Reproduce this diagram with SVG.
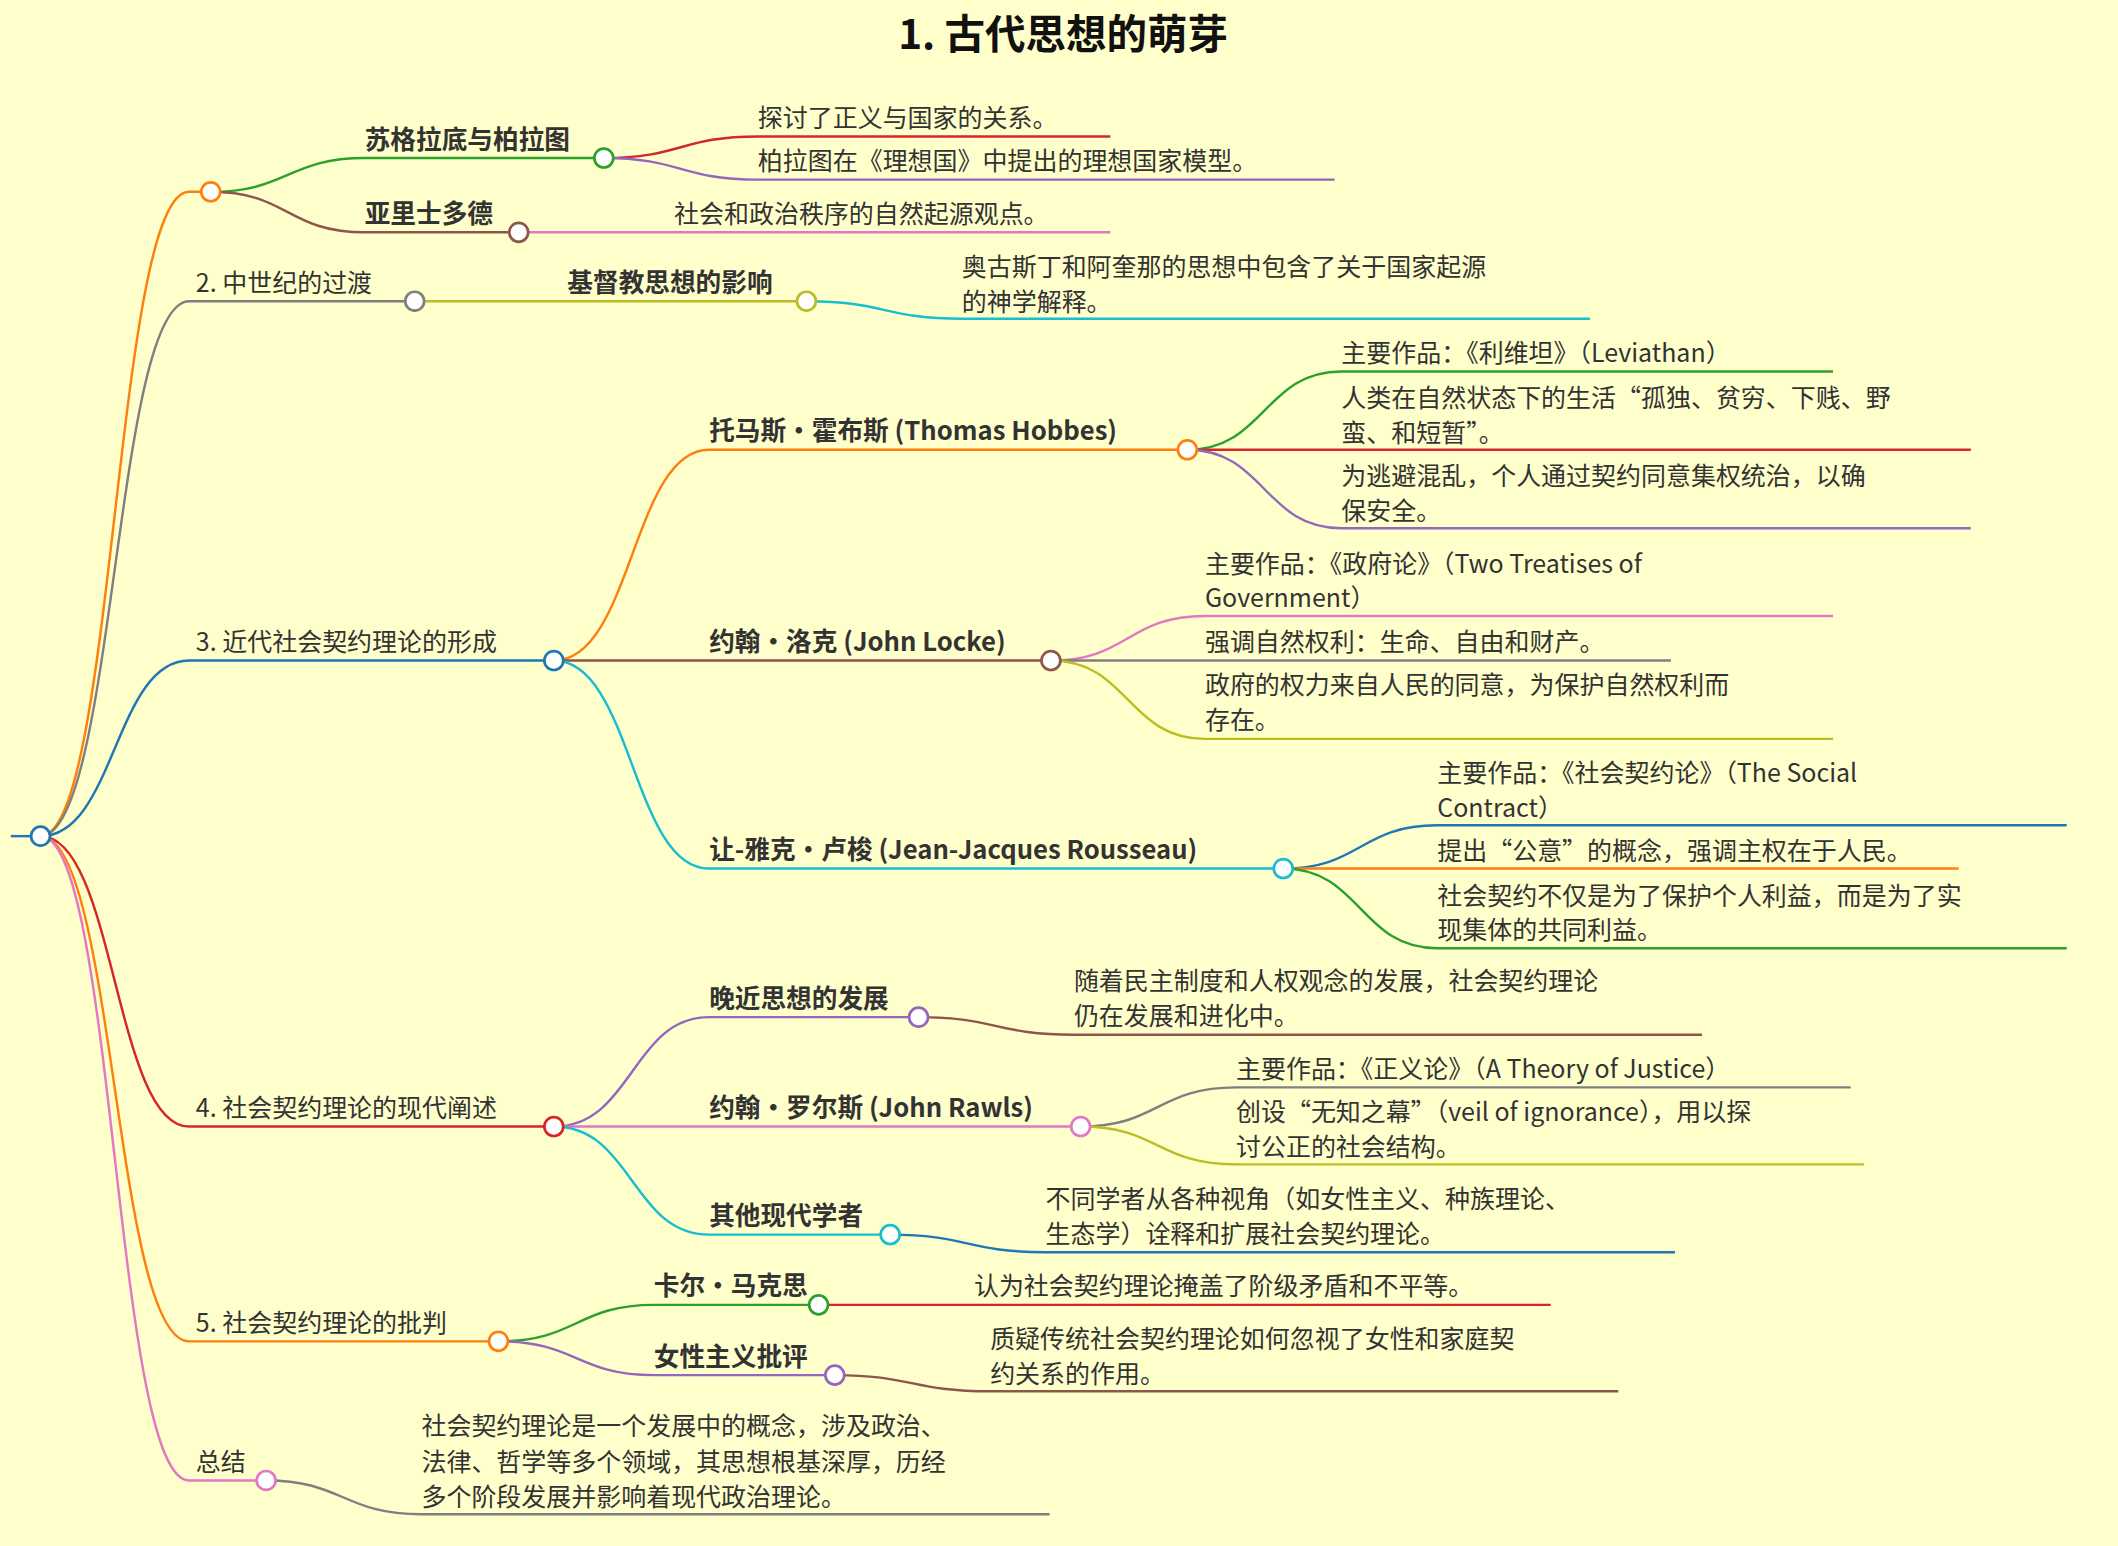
<svg xmlns="http://www.w3.org/2000/svg" width="2118" height="1546" viewBox="0 0 2118 1546">
<style>
text{font-family:"Noto Sans CJK SC","DejaVu Sans",sans-serif;fill:#333;font-size:18.5px}
.t{font-size:30px;font-weight:bold;fill:#111}
.b{font-weight:bold;font-size:19px}
path{fill:none;stroke-width:1.8}
circle{fill:#fff;stroke-width:2}
</style>
<rect width="2118" height="1546" fill="#ffffcc"/>
<g transform="scale(1.3508)">
<text class="t" x="787" y="36" text-anchor="middle">1. 古代思想的萌芽</text>
<g id="connectors">
<path d="M8 619H30" stroke="#1f77b4"/>
<path d="M30 619C85 619 85 142 140 142H156" stroke="#ff7f0e"/>
<path d="M30 619C85 619 85 223 140 223H307" stroke="#7f7f7f"/>
<path d="M30 619C85 619 85 489 140 489H410" stroke="#1f77b4"/>
<path d="M30 619C85 619 85 834 140 834H410" stroke="#d62728"/>
<path d="M30 619C85 619 85 993 140 993H369" stroke="#ff7f0e"/>
<path d="M30 619C85 619 85 1096 140 1096H197" stroke="#e377c2"/>
<path d="M156 142C213 142 213 117 270 117H447" stroke="#2ca02c"/>
<path d="M156 142C213 142 213 172 270 172H384" stroke="#8c564b"/>
<path d="M307 223C363 223 363 223 420 223H597" stroke="#bcbd22"/>
<path d="M410 489C468 489 468 333 525 333H879" stroke="#ff7f0e"/>
<path d="M410 489C468 489 468 489 525 489H778" stroke="#8c564b"/>
<path d="M410 489C468 489 468 643 525 643H950" stroke="#17becf"/>
<path d="M410 834C468 834 468 753 525 753H680" stroke="#9467bd"/>
<path d="M410 834C468 834 468 834 525 834H800" stroke="#e377c2"/>
<path d="M410 834C468 834 468 914 525 914H659" stroke="#17becf"/>
<path d="M369 993C427 993 427 966 484 966H606" stroke="#2ca02c"/>
<path d="M369 993C427 993 427 1018 484 1018H618" stroke="#9467bd"/>
<path d="M447 117C504 117 504 101 561 101H822" stroke="#d62728"/>
<path d="M447 117C504 117 504 133 561 133H988" stroke="#9467bd"/>
<path d="M384 172C442 172 442 172 499 172H822" stroke="#e377c2"/>
<path d="M597 223C655 223 655 236 712 236H1177" stroke="#17becf"/>
<path d="M879 333C936 333 936 275 993 275H1357" stroke="#2ca02c"/>
<path d="M879 333C936 333 936 333 993 333H1459" stroke="#d62728"/>
<path d="M879 333C936 333 936 391 993 391H1459" stroke="#9467bd"/>
<path d="M778 489C835 489 835 456 892 456H1357" stroke="#e377c2"/>
<path d="M778 489C835 489 835 489 892 489H1237" stroke="#7f7f7f"/>
<path d="M778 489C835 489 835 547 892 547H1357" stroke="#bcbd22"/>
<path d="M950 643C1007 643 1007 611 1064 611H1530" stroke="#1f77b4"/>
<path d="M950 643C1007 643 1007 643 1064 643H1450" stroke="#ff7f0e"/>
<path d="M950 643C1007 643 1007 702 1064 702H1530" stroke="#2ca02c"/>
<path d="M680 753C737 753 737 766 795 766H1260" stroke="#8c564b"/>
<path d="M800 834C857 834 857 805 915 805H1370" stroke="#7f7f7f"/>
<path d="M800 834C857 834 857 862 915 862H1380" stroke="#bcbd22"/>
<path d="M659 914C716 914 716 927 774 927H1240" stroke="#1f77b4"/>
<path d="M606 966C663 966 663 966 721 966H1148" stroke="#d62728"/>
<path d="M618 1018C675 1018 675 1030 733 1030H1198" stroke="#8c564b"/>
<path d="M197 1096C254 1096 254 1121 312 1121H777" stroke="#7f7f7f"/>
</g>
<g id="root"><circle cx="30" cy="619" r="7" stroke="#1f77b4"/></g>
<g id="n1"><circle cx="156" cy="142" r="7" stroke="#ff7f0e"/></g>
<g id="n2"><text x="145" y="216">2. 中世纪的过渡</text><circle cx="307" cy="223" r="7" stroke="#7f7f7f"/></g>
<g id="n3"><text x="145" y="482">3. 近代社会契约理论的形成</text><circle cx="410" cy="489" r="7" stroke="#1f77b4"/></g>
<g id="n4"><text x="145" y="827">4. 社会契约理论的现代阐述</text><circle cx="410" cy="834" r="7" stroke="#d62728"/></g>
<g id="n5"><text x="145" y="986">5. 社会契约理论的批判</text><circle cx="369" cy="993" r="7" stroke="#ff7f0e"/></g>
<g id="n6"><text x="145" y="1089">总结</text><circle cx="197" cy="1096" r="7" stroke="#e377c2"/></g>
<g id="socrates"><text class="b" x="270" y="110">苏格拉底与柏拉图</text><circle cx="447" cy="117" r="7" stroke="#2ca02c"/></g>
<g id="aristotle"><text class="b" x="270" y="165">亚里士多德</text><circle cx="384" cy="172" r="7" stroke="#8c564b"/></g>
<g id="christ"><text class="b" x="420" y="216">基督教思想的影响</text><circle cx="597" cy="223" r="7" stroke="#bcbd22"/></g>
<g id="hobbes"><text class="b" x="525" y="326">托马斯·霍布斯 (Thomas Hobbes)</text><circle cx="879" cy="333" r="7" stroke="#ff7f0e"/></g>
<g id="locke"><text class="b" x="525" y="482">约翰·洛克 (John Locke)</text><circle cx="778" cy="489" r="7" stroke="#8c564b"/></g>
<g id="rousseau"><text class="b" x="525" y="636">让-雅克·卢梭 (Jean-Jacques Rousseau)</text><circle cx="950" cy="643" r="7" stroke="#17becf"/></g>
<g id="recent"><text class="b" x="525" y="746">晚近思想的发展</text><circle cx="680" cy="753" r="7" stroke="#9467bd"/></g>
<g id="rawls"><text class="b" x="525" y="827">约翰·罗尔斯 (John Rawls)</text><circle cx="800" cy="834" r="7" stroke="#e377c2"/></g>
<g id="others"><text class="b" x="525" y="907">其他现代学者</text><circle cx="659" cy="914" r="7" stroke="#17becf"/></g>
<g id="marx"><text class="b" x="484" y="959">卡尔·马克思</text><circle cx="606" cy="966" r="7" stroke="#2ca02c"/></g>
<g id="feminism"><text class="b" x="484" y="1011">女性主义批评</text><circle cx="618" cy="1018" r="7" stroke="#9467bd"/></g>
<g id="leaves">
<text x="561" y="94">探讨了正义与国家的关系。</text>
<text x="561" y="126">柏拉图在《理想国》中提出的理想国家模型。</text>
<text x="499" y="165">社会和政治秩序的自然起源观点。</text>
<text x="712" y="204">奥古斯丁和阿奎那的思想中包含了关于国家起源</text>
<text x="712" y="230">的神学解释。</text>
<text x="993" y="268">主要作品：《利维坦》（Leviathan）</text>
<text x="993" y="301">人类在自然状态下的生活“孤独、贫穷、下贱、野</text>
<text x="993" y="327">蛮、和短暂”。</text>
<text x="993" y="359">为逃避混乱，个人通过契约同意集权统治，以确</text>
<text x="993" y="385">保安全。</text>
<text x="892" y="424">主要作品：《政府论》（Two Treatises of</text>
<text x="892" y="449">Government）</text>
<text x="892" y="482">强调自然权利：生命、自由和财产。</text>
<text x="892" y="514">政府的权力来自人民的同意，为保护自然权利而</text>
<text x="892" y="540">存在。</text>
<text x="1064" y="579">主要作品：《社会契约论》（The Social</text>
<text x="1064" y="605">Contract）</text>
<text x="1064" y="637">提出“公意”的概念，强调主权在于人民。</text>
<text x="1064" y="670">社会契约不仅是为了保护个人利益，而是为了实</text>
<text x="1064" y="695">现集体的共同利益。</text>
<text x="795" y="733">随着民主制度和人权观念的发展，社会契约理论</text>
<text x="795" y="759">仍在发展和进化中。</text>
<text x="915" y="798">主要作品：《正义论》（A Theory of Justice）</text>
<text x="915" y="830">创设“无知之幕”（veil of ignorance），用以探</text>
<text x="915" y="856">讨公正的社会结构。</text>
<text x="774" y="894">不同学者从各种视角（如女性主义、种族理论、</text>
<text x="774" y="920">生态学）诠释和扩展社会契约理论。</text>
<text x="721" y="959">认为社会契约理论掩盖了阶级矛盾和不平等。</text>
<text x="733" y="998">质疑传统社会契约理论如何忽视了女性和家庭契</text>
<text x="733" y="1024">约关系的作用。</text>
<text x="312" y="1062">社会契约理论是一个发展中的概念，涉及政治、</text>
<text x="312" y="1089">法律、哲学等多个领域，其思想根基深厚，历经</text>
<text x="312" y="1115">多个阶段发展并影响着现代政治理论。</text>
</g>
</g>
</svg>
